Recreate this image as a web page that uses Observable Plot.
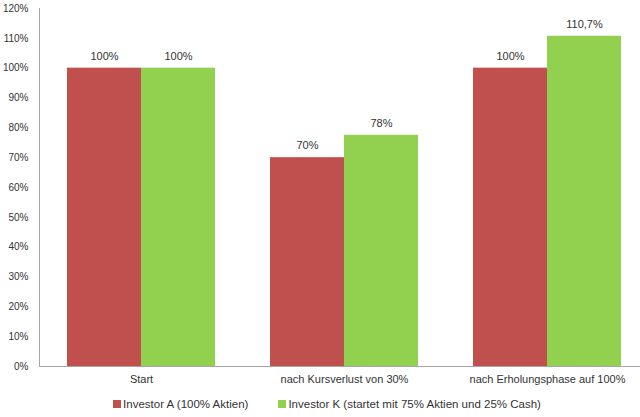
<!DOCTYPE html>
<html><head><meta charset="utf-8">
<script src="https://cdn.jsdelivr.net/npm/d3@7"></script>
<script src="https://cdn.jsdelivr.net/npm/@observablehq/plot@0.6"></script>
<style>
body{margin:0;background:#fff;font-family:"Liberation Sans",Arial,sans-serif;}
#chart svg{overflow:hidden;}
#legend{display:flex;justify-content:center;align-items:center;font-size:11.5px;color:#333;margin-top:6px;padding-left:14px;}
#legend .item{display:flex;align-items:center;margin:0 15px;}
#legend .sw{width:8px;height:8px;margin-right:2px;}
</style>
</head><body>
<div id="chart"></div>
<div id="legend"></div>
<script>
const categories = ["Start", "nach Kursverlust von 30%", "nach Erholungsphase auf 100%"];
const series = ["Investor A (100% Aktien)", "Investor K (startet mit 75% Aktien und 25% Cash)"];
const investorA = [100, 70, 100];
const investorK = [100, 77.5, 110.7];
const labelsA = ["100%", "70%", "100%"];
const labelsK = ["100%", "78%", "110,7%"];
const yTicks = [0, 10, 20, 30, 40, 50, 60, 70, 80, 90, 100, 110, 120];
const colors = ["#C0504D", "#92D050"];

const data = categories.flatMap((c, i) => [
  {cat: c, s: series[0], v: investorA[i], label: labelsA[i]},
  {cat: c, s: series[1], v: investorK[i], label: labelsK[i]}
]);

const chart = Plot.plot({
  width: 640,
  height: 392,
  marginLeft: 39,
  marginRight: -8,
  marginTop: 8,
  marginBottom: 26,
  style: {fontFamily: "'Liberation Sans', Arial, sans-serif", color: "#333", background: "#fff"},
  fx: {domain: categories, paddingInner: 0.273, paddingOuter: 0.133, label: null},
  x: {domain: series, padding: 0, axis: null},
  y: {domain: [0, 120], label: null},
  color: {domain: series, range: colors},
  marks: [
    Plot.barY(data, {fx: "cat", x: "s", y: "v", fill: "s"}),
    Plot.text(data, {fx: "cat", x: "s", y: "v", text: "label", dy: -12, fontSize: 11, fill: "#333"}),
    Plot.axisY({ticks: yTicks, tickFormat: d => d + "%", tickSize: 0, tickPadding: 12, dx: -27, fontSize: 10, label: null}),
    Plot.axisFx({anchor: "bottom", tickSize: 0, tickPadding: 9, fontSize: 11, label: null})
  ]
});
document.getElementById("chart").append(chart);

// axis lines across the whole frame
const y = chart.scale("y");
const y0 = y.apply(0), yTop = y.apply(120);
const svg = d3.select(chart);
svg.append("line").attr("x1", 39).attr("x2", 640).attr("y1", y0 + 0.5).attr("y2", y0 + 0.5).attr("stroke", "#a6a6a6");
svg.append("line").attr("x1", 39.5).attr("x2", 39.5).attr("y1", yTop).attr("y2", y0).attr("stroke", "#a6a6a6");

const legend = document.getElementById("legend");
series.forEach((s, i) => {
  const item = document.createElement("div");
  item.className = "item";
  const sw = document.createElement("span");
  sw.className = "sw";
  sw.style.background = colors[i];
  const t = document.createElement("span");
  t.textContent = s;
  item.append(sw, t);
  legend.append(item);
});
</script>
</body></html>
